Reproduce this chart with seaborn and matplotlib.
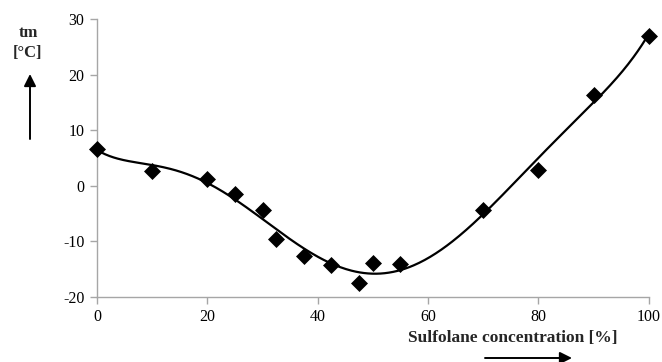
import numpy as np
import pandas as pd
import matplotlib
matplotlib.use("Agg")
import matplotlib.pyplot as plt
import seaborn as sns

# Sulfolane concentration (%) and melting temperature tm (°C)
concentration = [0, 10, 20, 25, 30, 32.5, 37.5, 42.5, 47.5, 50, 55, 70, 80, 90, 100]
tm = [6.7, 2.6, 1.3, -1.4, -4.4, -9.5, -12.6, -14.3, -17.5, -13.9, -14.1, -4.3, 2.8, 16.4, 27.0]

x_ticks = [0, 20, 40, 60, 80, 100]
y_ticks = [-20, -10, 0, 10, 20, 30]

df = pd.DataFrame({"conc": concentration, "tm": tm})

sns.set_style("white")
plt.rcParams["font.family"] = ["Liberation Serif", "DejaVu Serif"]
plt.rcParams["axes.unicode_minus"] = False

fig = plt.figure(figsize=(6.62, 3.62), dpi=100)
ax = fig.add_axes([0.1465, 0.1796, 0.8335, 0.768])

# 6th-order polynomial trend line through the measurements
coef = np.polyfit(df["conc"], df["tm"], 6)
xs = np.linspace(0, 100, 400)
trend = pd.DataFrame({"conc": xs, "tm": np.polyval(coef, xs)})
sns.lineplot(data=trend, x="conc", y="tm", ax=ax, color="black", linewidth=1.6)

sns.scatterplot(data=df, x="conc", y="tm", ax=ax, marker="D", s=75,
                color="black", edgecolor="black", linewidth=0, zorder=3,
                clip_on=False)

ax.set_xlim(0, 100)
ax.set_ylim(-20, 30)
ax.set_xticks(x_ticks)
ax.set_yticks(y_ticks)
ax.set_xlabel("")
ax.set_ylabel("")
for side in ("top", "right"):
    ax.spines[side].set_visible(False)
for side in ("left", "bottom"):
    ax.spines[side].set_color("#a6a6a6")
    ax.spines[side].set_linewidth(1.0)
ax.tick_params(axis="both", which="both", direction="out", length=5,
               width=1, color="#a6a6a6", labelsize=11.5, labelcolor="black",
               left=True, bottom=True, pad=4)

arrow_style = "-|>,head_length=0.6,head_width=0.3"

# axis titles with direction arrows
fig.text(28 / 662, 1 - 33 / 362, "tm", ha="center", va="center",
         fontsize=12, fontweight="bold")
fig.text(28 / 662, 1 - 53 / 362, "[°C]", ha="center", va="center",
         fontsize=12, fontweight="bold")
fig.add_artist(matplotlib.patches.FancyArrowPatch(
    (30 / 662, 1 - 139 / 362), (30 / 662, 1 - 74 / 362),
    transform=fig.transFigure, arrowstyle=arrow_style, mutation_scale=12,
    color="black", linewidth=1.4, shrinkA=0, shrinkB=0))

fig.text(513 / 662, 1 - 338 / 362, "Sulfolane concentration [%]",
         ha="center", va="center", fontsize=12.5, fontweight="bold")
fig.add_artist(matplotlib.patches.FancyArrowPatch(
    (485 / 662, 1 - 358 / 362), (572 / 662, 1 - 358 / 362),
    transform=fig.transFigure, arrowstyle=arrow_style, mutation_scale=12,
    color="black", linewidth=1.4, shrinkA=0, shrinkB=0))

fig.savefig("out.png", dpi=100)
